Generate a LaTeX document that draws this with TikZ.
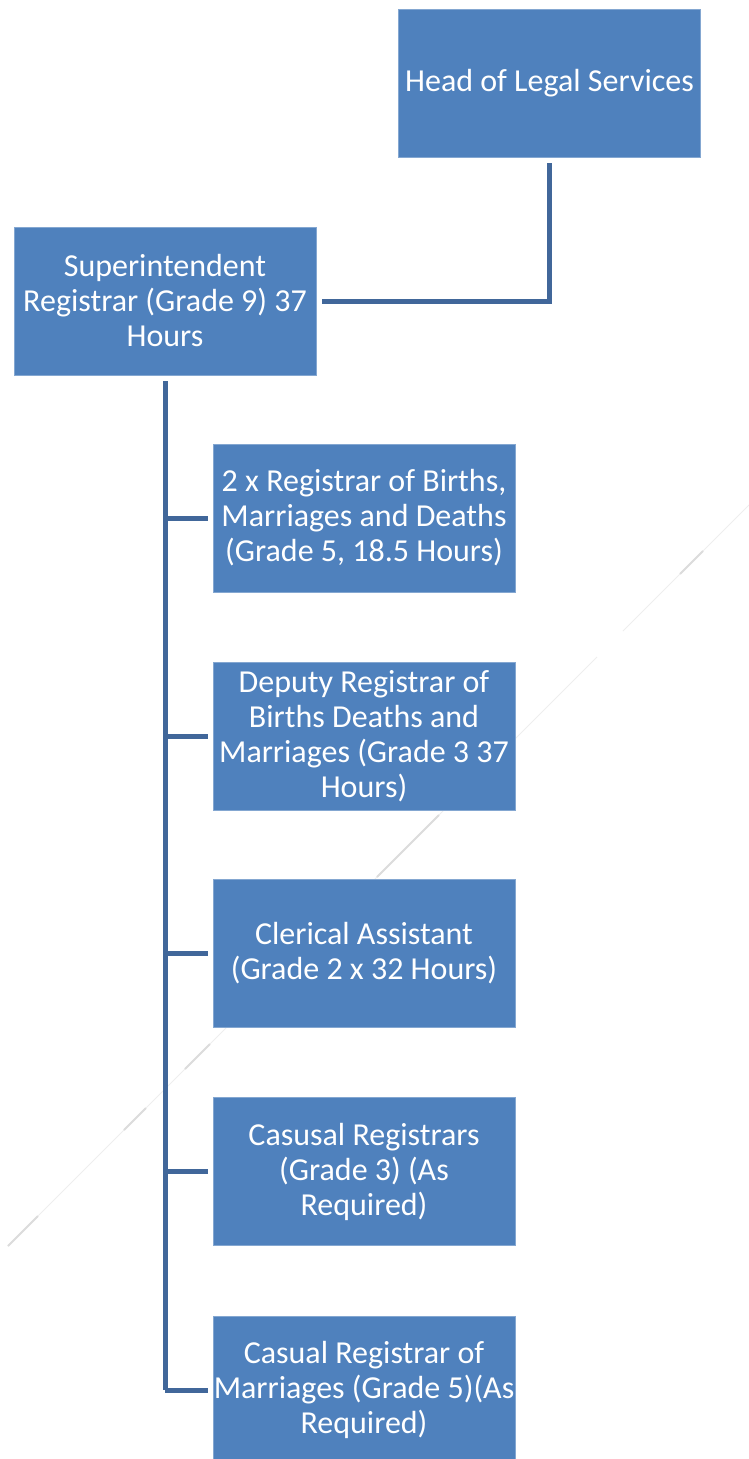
\documentclass[tikz,border=0pt]{standalone}
\usepackage{fontspec}
\setmainfont{Carlito}
\definecolor{boxblue}{HTML}{4F81BD}
\definecolor{lineblue}{HTML}{41679A}
\definecolor{faintA}{HTML}{EEEEEE}
\definecolor{faintB}{HTML}{DCDCDC}
\begin{document}
\begin{tikzpicture}[x=1pt,y=-1pt,
  orgbox/.style={fill=boxblue,draw=boxblue!70!white,line width=0.8pt,minimum width=302pt,minimum height=148pt,
    text=white,align=center,inner sep=0pt,font=\fontsize{32}{35}\selectfont},
  conn/.style={draw=lineblue,line width=5pt},
  diagA/.style={draw=faintA,line width=1pt},
  diagB/.style={draw=faintB,line width=2pt}]
\clip (0,0) rectangle (749,1459);
\useasboundingbox (0,0) rectangle (749,1459);
\fill[white] (0,0) rectangle (749,1459);
% faint diagonal artifact
\draw[diagA] (749,505) -- (623,631);
\draw[diagA] (597,657) -- (8,1246);
\draw[diagB] (703,551) -- (680,574);
\draw[diagB] (439,815) -- (377,877);
\draw[diagB] (210,1044) -- (185,1069);
\draw[diagB] (146,1108) -- (124,1130);
\draw[diagB] (38,1216) -- (8,1246);
\node[orgbox] (head) at (549.5,83) {Head of Legal Services};
\node[orgbox] (sup) at (165,301) {Superintendent\\Registrar (Grade 9) 37\\Hours};
\node[orgbox] (c1) at (364,518) {2 x Registrar of Births,\\Marriages and Deaths\\(Grade 5, 18.5 Hours)};
\node[orgbox] (c2) at (364,736) {Deputy Registrar of\\Births Deaths and\\Marriages (Grade 3 37\\Hours)};
\node[orgbox] (c3) at (364,953.5) {Clerical Assistant\\(Grade 2 x 32 Hours)};
\node[orgbox] (c4) at (364,1171.5) {Casusal Registrars\\(Grade 3) (As\\Required)};
\node[orgbox] (c5) at (364,1390) {Casual Registrar of\\Marriages (Grade 5)(As\\Required)};
% connectors
\coordinate (hb) at ([yshift=-6pt]head.south);
\coordinate (se) at ([xshift=6pt]sup.east);
\draw[conn] (hb) |- (se);
\coordinate (st) at ([yshift=-6pt]sup.south);
\coordinate (tb) at (st |- c5.west);
\draw[conn] (st) -- (tb);
\foreach \c in {c1,c2,c3,c4,c5}{
  \draw[conn] (st |- \c.west) -- ([xshift=-5pt]\c.west);
}
\end{tikzpicture}
\end{document}
